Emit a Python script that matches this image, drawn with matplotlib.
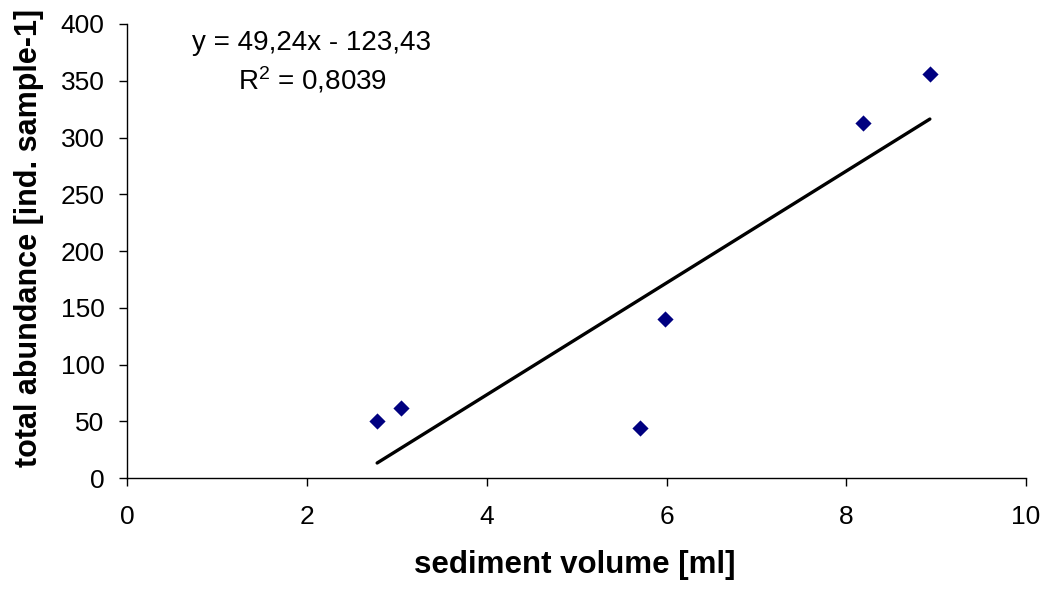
import numpy as np
import matplotlib
matplotlib.use("Agg")
import matplotlib.pyplot as plt

# sediment volume [ml] vs total abundance per sample
sediment_volume = [2.78, 3.05, 5.70, 5.98, 8.19, 8.93]
total_abundance = [50, 62, 44, 140, 313, 356]

# linear trendline as printed on the chart
slope = 49.24
intercept = -123.43
r_squared = 0.8039

x_ticks = [0, 2, 4, 6, 8, 10]
y_ticks = [0, 50, 100, 150, 200, 250, 300, 350, 400]

plt.rcParams['font.family'] = ['Liberation Sans', 'DejaVu Sans']

fig = plt.figure(figsize=(10.46, 5.92), dpi=100)
ax = fig.add_axes([0.1217, 0.1921, 0.8592, 0.7674])

ax.scatter(sediment_volume, total_abundance, marker='D', s=68, color='#000080',
           linewidths=0, zorder=3)

x_fit = np.array([min(sediment_volume), max(sediment_volume)])
ax.plot(x_fit, slope * x_fit + intercept, color='black', linewidth=2.4, solid_capstyle='round')

ax.set_xlim(0, 10)
ax.set_ylim(0, 400)
ax.set_xticks(x_ticks)
ax.set_yticks(y_ticks)
ax.tick_params(labelsize=19, length=5.5, width=1, direction='out')
ax.tick_params(axis='x', pad=14)
ax.tick_params(axis='y', pad=11)

for side in ['top', 'right']:
    ax.spines[side].set_visible(False)
for side in ['left', 'bottom']:
    ax.spines[side].set_linewidth(1)

ax.set_xlabel('sediment volume [ml]', fontsize=22.5, fontweight='bold')
ax.set_ylabel('total abundance [ind. sample-1]', fontsize=22, fontweight='bold')
ax.xaxis.set_label_coords(0.498, -0.157)
ax.yaxis.set_label_coords(-0.093, 0.529)

eq_text = 'y = {:.2f}x - {:.2f}'.format(slope, -intercept).replace('.', ',')
r2_text = '$\\mathregular{{R^2}}$ = {:.4f}'.format(r_squared).replace('.', ',')
fig.text(311 / 1046, 1 - 43 / 592, eq_text, fontsize=20, ha='center', va='center')
fig.text(313 / 1046, 1 - 80 / 592, r2_text, fontsize=20, ha='center', va='center')

fig.savefig('out.png', dpi=100)
plt.close(fig)
